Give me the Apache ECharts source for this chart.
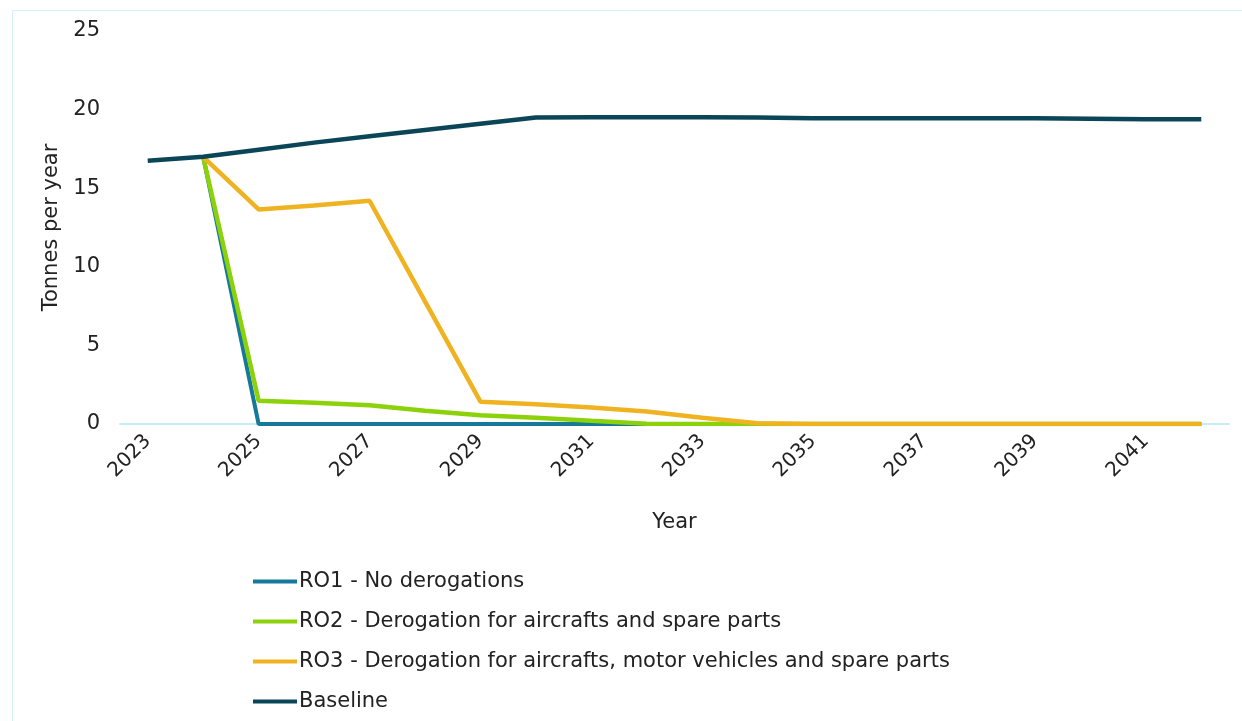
<!DOCTYPE html>
<html>
	<head>
		<meta charset="utf-8">
		<script src="https://cdn.jsdelivr.net/npm/echarts@6/dist/echarts.min.js"></script>
		<title>Tonnes per year</title>
	</head>
	<body>
		<style>
			html,
			body,
			#main {
				width: 100%;
				height: 100%;
				margin: 0;
				background: #fff;
			}
		</style>
		<div id="main"></div>
		<script type="text/javascript">
			// data
			var years = ['2023', '2024', '2025', '2026', '2027', '2028', '2029', '2030', '2031', '2032',
				'2033', '2034', '2035', '2036', '2037', '2038', '2039', '2040', '2041', '2042'];
			var ro1 = [null, 17.0, 0, 0, 0, 0, 0, 0, 0, 0, 0, 0, 0, 0, 0, 0, 0, 0, 0, 0];
			var ro2 = [null, 17.0, 1.48, 1.35, 1.2, 0.85, 0.55, 0.4, 0.2, 0.02, 0, 0, 0, 0, 0, 0, 0, 0, 0, 0];
			var ro3 = [null, 17.0, 13.65, 13.9, 14.2, 7.8, 1.42, 1.25, 1.05, 0.8, 0.4, 0.05, 0, 0, 0, 0, 0, 0, 0, 0];
			var baseline = [16.75, 17.0, 17.45, 17.9, 18.3, 18.7, 19.1, 19.5, 19.52, 19.52, 19.52, 19.5,
				19.45, 19.45, 19.45, 19.45, 19.45, 19.42, 19.38, 19.38];
			var seriesNames = ['RO1 - No derogations', 'RO2 - Derogation for aircrafts and spare parts',
				'RO3 - Derogation for aircrafts, motor vehicles and spare parts', 'Baseline'];
			var colors = ['#17799a', '#8cd20a', '#efb322', '#0b4658'];

			var myChart = echarts.init(document.getElementById('main'));
			var font = 'DejaVu Sans';

			function line(name, data, color, width) {
				return {
					name: name,
					type: 'line',
					data: data,
					showSymbol: false,
					symbol: 'none',
					lineStyle: { color: color, width: width },
					itemStyle: { color: color }
				};
			}

			var option = {
				animation: false,
				graphic: [{
					type: 'rect',
					left: 10,
					top: 8,
					shape: { width: 1240, height: 720 },
					style: { fill: 'none', stroke: '#d4eff9', lineWidth: 1 },
					silent: true
				}],
				grid: { left: 120, right: 13, top: 31, bottom: 297 },
				legend: {
					orient: 'vertical',
					left: 248,
					top: 566,
					itemGap: 19,
					itemWidth: 44,
					itemHeight: 4,
					icon: 'rect',
					textStyle: { fontFamily: font, fontSize: 21, color: '#222', padding: [0, 0, 0, -3] },
					data: seriesNames
				},
				xAxis: {
					type: 'category',
					data: years,
					boundaryGap: true,
					name: 'Year',
					nameLocation: 'middle',
					nameGap: 88,
					nameTextStyle: { fontFamily: font, fontSize: 21, color: '#222' },
					axisLine: { lineStyle: { color: '#c5ecf9', width: 2 } },
					axisTick: { show: false },
					axisLabel: {
						interval: 1,
						rotate: 45,
						margin: 14,
						fontFamily: font,
						fontSize: 20,
						color: '#222'
					}
				},
				yAxis: {
					type: 'value',
					min: 0,
					max: 25,
					interval: 5,
					name: 'Tonnes per year',
					nameLocation: 'middle',
					nameGap: 56,
					nameTextStyle: { fontFamily: font, fontSize: 21, color: '#222' },
					axisLine: { show: false },
					axisTick: { show: false },
					splitLine: { show: false },
					axisLabel: { margin: 20, fontFamily: font, fontSize: 21, color: '#222' }
				},
				series: [
					line(seriesNames[0], ro1, colors[0], 4),
					line(seriesNames[1], ro2, colors[1], 4.5),
					line(seriesNames[2], ro3, colors[2], 4.5),
					line(seriesNames[3], baseline, colors[3], 4.5)
				]
			};

			myChart.setOption(option);

			window.onresize = function() {
				myChart.resize();
			}
		</script>
	</body>
</html>
